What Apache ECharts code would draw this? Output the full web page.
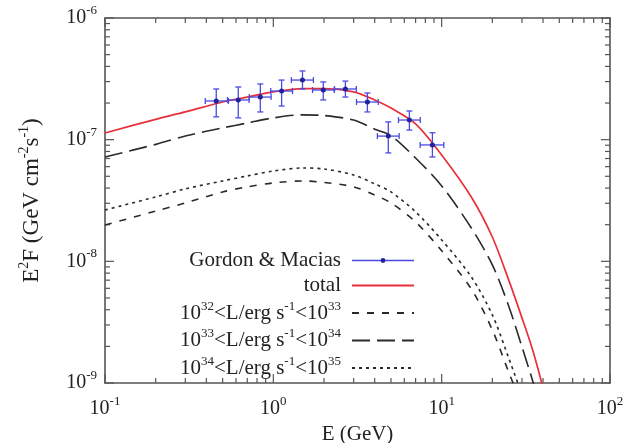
<!DOCTYPE html>
<html><head><meta charset="utf-8">
<script src="https://cdn.jsdelivr.net/npm/echarts/dist/echarts.min.js"></script>
<style>html,body{margin:0;padding:0;background:#fff}#c{width:631px;height:443px}</style>
</head><body><div id="c"></div>
<script>
// ---- data ----
const curveE = [0.1,0.2,0.3,0.5,0.7,1,1.5,2,3,4,5,7,10,15,20,25,30,35,40];
const totalF = [1.135e-7,1.47e-7,1.69e-7,2.04e-7,2.24e-7,2.47e-7,2.63e-7,2.63e-7,2.47e-7,2.12e-7,1.82e-7,1.35e-7,7.49e-8,3.38e-8,1.585e-8,7.04e-9,3.43e-9,1.80e-9,9.12e-10];
const pop33F = [7.21e-8,9.15e-8,1.07e-7,1.25e-7,1.37e-7,1.51e-7,1.60e-7,1.58e-7,1.45e-7,1.22e-7,1.08e-7,7.07e-8,4.17e-8,1.88e-8,9.34e-9,4.30e-9,1.98e-9,1.00e-9,4.97e-10];
const pop32F = [1.99e-8,2.59e-8,3.02e-8,3.72e-8,4.09e-8,4.41e-8,4.58e-8,4.45e-8,4.09e-8,3.51e-8,3.02e-8,2.11e-8,1.22e-8,5.93e-9,2.73e-9,1.23e-9,6.6e-10];
const pop34F = [2.64e-8,3.38e-8,3.94e-8,4.58e-8,5.03e-8,5.53e-8,5.85e-8,5.74e-8,5.13e-8,4.33e-8,3.72e-8,2.55e-8,1.50e-8,7.45e-9,3.63e-9,1.61e-9,8.0e-10];

const dataE   = [0.458,0.619,0.837,1.12,1.49,1.98,2.68,3.62,4.82,6.43,8.81];
const dataElo = [0.394,0.534,0.72,0.965,1.28,1.71,2.31,3.12,4.15,5.54,7.45];
const dataEhi = [0.541,0.718,0.97,1.30,1.73,2.30,3.11,4.20,5.59,7.46,10.3];
const dataF   = [2.08e-7,2.12e-7,2.24e-7,2.51e-7,3.09e-7,2.56e-7,2.61e-7,2.04e-7,1.07e-7,1.45e-7,9.05e-8];
const dataFlo = [1.54e-7,1.51e-7,1.69e-7,1.89e-7,2.61e-7,2.12e-7,2.24e-7,1.69e-7,7.78e-8,1.20e-7,7.21e-8];
const dataFhi = [2.61e-7,2.71e-7,2.87e-7,3.09e-7,3.67e-7,2.98e-7,3.03e-7,2.42e-7,1.40e-7,1.72e-7,1.14e-7];

const xDecades = [-1,0,1,2];
const yDecades = [-9,-8,-7,-6];
const legendLabels = {
  'Gordon & Macias': '{n|Gordon & Macias}',
  'total': '{n|total}',
  'L32': '{n|10}{s|32}{n|<L/erg s}{s|-1}{n|<10}{s|33}',
  'L33': '{n|10}{s|33}{n|<L/erg s}{s|-1}{n|<10}{s|34}',
  'L34': '{n|10}{s|34}{n|<L/erg s}{s|-1}{n|<10}{s|35}'
};

// ---- styling ----
const FONT = 'Liberation Serif';
const TXT = '#222';
const AX = '#555';
const richLbl = {
  b: {fontFamily: FONT, fontSize: 20, color: TXT, lineHeight: 28, verticalAlign: 'middle'},
  s: {fontFamily: FONT, fontSize: 13, color: TXT, verticalAlign: 'top'}
};
const richX = {
  n: {fontFamily: FONT, fontSize: 21, color: TXT, lineHeight: 28, verticalAlign: 'middle'}
};
const richY = {
  n: {fontFamily: FONT, fontSize: 23, color: TXT, lineHeight: 30, verticalAlign: 'middle'},
  s: {fontFamily: FONT, fontSize: 14, color: TXT, verticalAlign: 'top'}
};
const richLeg = {
  n: {fontFamily: FONT, fontSize: 21, color: TXT, lineHeight: 26, verticalAlign: 'middle'},
  s: {fontFamily: FONT, fontSize: 13, color: TXT, verticalAlign: 'top'}
};
function expLabel(v) {
  const e = Math.round(Math.log10(v));
  return '{b|10}{s|' + e + '}';
}

// tick specs: [x, y, kind(0=x,1=y), major]
const tickData = [];
xDecades.forEach(d => {
  for (let m = 1; m <= 9; m++) {
    if (d === 2 && m > 1) break;
    tickData.push([m * Math.pow(10, d), 1e-9, 0, m === 1 ? 1 : 0]);
  }
});
yDecades.forEach(d => {
  for (let m = 1; m <= 9; m++) {
    if (d === -6 && m > 1) break;
    tickData.push([0.1, m * Math.pow(10, d), 1, m === 1 ? 1 : 0]);
  }
});

const chart = echarts.init(document.getElementById('c'));
const axCommon = {
  type: 'log', logBase: 10,
  axisLine: {show: true, lineStyle: {color: AX, width: 1.6}},
  axisTick: {show: false},
  splitLine: {show: false},
  minorTick: {show: false}
};
const hideSym = {opacity: 0};
chart.setOption({
  animation: false,
  backgroundColor: '#fff',
  grid: {left: 105, top: 18, width: 505, height: 365, containLabel: false, outerBoundsMode: 'none'},
  xAxis: [
    Object.assign({}, axCommon, {
      min: 0.1, max: 100, position: 'bottom',
      axisLabel: {formatter: expLabel, rich: richLbl, margin: 12},
      name: '{n|E (GeV)}', nameLocation: 'middle', nameGap: 32,
      nameTextStyle: {rich: richX}
    }),
    Object.assign({}, axCommon, {min: 0.1, max: 100, position: 'top', axisLabel: {show: false}})
  ],
  yAxis: [
    Object.assign({}, axCommon, {
      min: 1e-9, max: 1e-6, position: 'left',
      axisLabel: {formatter: expLabel, rich: richLbl, margin: 8},
      name: '{n|E}{s|2}{n|F (GeV cm}{s|-2}{n|s}{s|-1}{n|)}', nameLocation: 'middle', nameGap: 58,
      nameTextStyle: {rich: richY}
    }),
    Object.assign({}, axCommon, {min: 1e-9, max: 1e-6, position: 'right', axisLabel: {show: false}})
  ],
  legend: {
    orient: 'vertical', align: 'right',
    right: 216, top: 250, padding: 0,
    itemWidth: 62, itemHeight: 6, itemGap: 4,
    formatter: name => legendLabels[name],
    textStyle: {rich: richLeg, padding: [0, 6, 0, 0]},
    data: [
      {name: 'Gordon & Macias', lineStyle: {color: '#4a4ae0', width: 1.5, opacity: 1, type: 'solid'}, itemStyle: {color: '#22229a'}},
      {name: 'total', itemStyle: hideSym},
      {name: 'L32', itemStyle: hideSym},
      {name: 'L33', itemStyle: hideSym},
      {name: 'L34', itemStyle: hideSym}
    ]
  },
  series: [
    {
      type: 'custom', name: 'ticks', silent: true, clip: false,
      data: tickData,
      renderItem: (params, api) => {
        const cs = params.coordSys;
        const kind = api.value(2), major = api.value(3);
        const len = major ? 9 : 5;
        const st = {stroke: AX, lineWidth: 1.2};
        if (kind === 0) {
          const px = api.coord([api.value(0), 1e-9])[0];
          return {type: 'group', children: [
            {type: 'line', shape: {x1: px, y1: cs.y + cs.height, x2: px, y2: cs.y + cs.height - len}, style: st},
            {type: 'line', shape: {x1: px, y1: cs.y, x2: px, y2: cs.y + len}, style: st}
          ]};
        } else {
          const py = api.coord([0.1, api.value(1)])[1];
          return {type: 'group', children: [
            {type: 'line', shape: {x1: cs.x, y1: py, x2: cs.x + len, y2: py}, style: st},
            {type: 'line', shape: {x1: cs.x + cs.width, y1: py, x2: cs.x + cs.width - len, y2: py}, style: st}
          ]};
        }
      }
    },
    {
      type: 'line', name: 'L32', smooth: 0.3, symbol: 'none',
      data: pop32F.map((f, i) => [curveE[i], f]),
      lineStyle: {color: '#2a2a2a', width: 1.6, type: [7, 8]}, itemStyle: {color: '#2a2a2a'}
    },
    {
      type: 'line', name: 'L33', smooth: 0.3, symbol: 'none',
      data: pop33F.map((f, i) => [curveE[i], f]),
      lineStyle: {color: '#2a2a2a', width: 1.6, type: [18, 7]}, itemStyle: {color: '#2a2a2a'}
    },
    {
      type: 'line', name: 'L34', smooth: 0.3, symbol: 'none',
      data: pop34F.map((f, i) => [curveE[i], f]),
      lineStyle: {color: '#2a2a2a', width: 1.6, type: [3, 4]}, itemStyle: {color: '#2a2a2a'}
    },
    {
      type: 'line', name: 'total', smooth: 0.3, symbol: 'none',
      data: totalF.map((f, i) => [curveE[i], f]),
      lineStyle: {color: '#e8303a', width: 1.7}, itemStyle: {color: '#e8303a'}
    },
    {
      type: 'custom', name: 'errbars', silent: true, z: 4,
      data: dataE.map((e, i) => [e, dataF[i], dataElo[i], dataEhi[i], dataFlo[i], dataFhi[i]]),
      encode: {x: 0, y: 1},
      renderItem: (params, api) => {
        const y0 = api.value(1), x0 = api.value(0);
        const xl = api.coord([api.value(2), y0]);
        const xh = api.coord([api.value(3), y0]);
        const yl = api.coord([x0, api.value(4)]);
        const yh = api.coord([x0, api.value(5)]);
        const c = 3;
        const st = {stroke: '#4a4ae0', lineWidth: 1.3};
        const L = (a, b, d, e) => ({type: 'line', shape: {x1: a, y1: b, x2: d, y2: e}, style: st});
        return {type: 'group', children: [
          L(xl[0], xl[1], xh[0], xh[1]),
          L(yl[0], yl[1], yh[0], yh[1]),
          L(xl[0], xl[1] - c, xl[0], xl[1] + c),
          L(xh[0], xh[1] - c, xh[0], xh[1] + c),
          L(yl[0] - c, yl[1], yl[0] + c, yl[1]),
          L(yh[0] - c, yh[1], yh[0] + c, yh[1])
        ]};
      }
    },
    {
      type: 'line', name: 'Gordon & Macias', symbol: 'circle', symbolSize: 5, z: 5,
      data: dataE.map((e, i) => [e, dataF[i]]),
      lineStyle: {opacity: 0, color: '#4a4ae0'},
      itemStyle: {color: '#22229a'}
    }
  ]
});
</script></body></html>
